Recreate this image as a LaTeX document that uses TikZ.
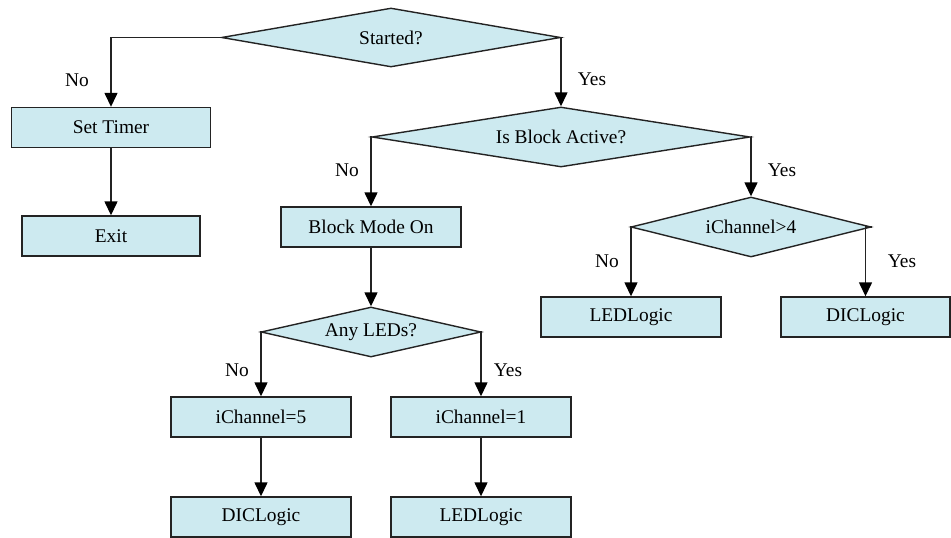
\documentclass[tikz,border=0pt]{standalone}
\usepackage{fontspec}
\setmainfont{Liberation Serif}
\usetikzlibrary{shapes.geometric,arrows.meta}
\definecolor{boxfill}{RGB}{205,234,240}
\definecolor{edge}{RGB}{35,35,35}
\begin{document}
\begin{tikzpicture}[x=1pt,y=-1pt,
  every node/.style={font=\fontsize{19.4}{23}\selectfont},
  stepbox/.style={draw=edge,line width=1.4pt,fill=boxfill,rectangle,inner sep=0pt,minimum height=40pt},
  decision/.style={draw=edge,line width=1.4pt,fill=boxfill,diamond,inner sep=0pt},
  flow/.style={draw=edge,line width=1.4pt,-{Triangle[length=14pt,width=13pt,color=black]}},
  lbl/.style={inner sep=0pt}]
\useasboundingbox (0,0) rectangle (951,538);

% decisions (aspect = width / height)
\node[decision,aspect=5.75,minimum width=339pt,minimum height=59pt] (start) at (391,37.5) {Started?};
\node[decision,aspect=6.3,minimum width=378pt,minimum height=60pt] (active) at (561,137) {Is Block Active?};
\node[decision,aspect=4.4,minimum width=220pt,minimum height=50pt] (anyled) at (371,332) {Any LEDs?};
\node[decision,aspect=4,minimum width=240pt,minimum height=60pt] (chan) at (751,227) {iChannel>4};

% process steps
\node[stepbox,minimum width=199pt] (timer) at (111,127.5) {Set Timer};
\node[stepbox,minimum width=178pt] (exit) at (111,236) {Exit};
\node[stepbox,minimum width=180pt] (block) at (371,227) {Block Mode On};
\node[stepbox,minimum width=180pt] (ledA) at (631,317) {LEDLogic};
\node[stepbox,minimum width=169pt] (dicA) at (865.5,317) {DICLogic};
\node[stepbox,minimum width=180pt] (ch5) at (261,417) {iChannel=5};
\node[stepbox,minimum width=180pt] (ch1) at (481,417) {iChannel=1};
\node[stepbox,minimum width=180pt] (dicB) at (261,517) {DICLogic};
\node[stepbox,minimum width=180pt] (ledB) at (481,517) {LEDLogic};

% connectors
\draw[flow] (start.west) -| (timer.north);
\draw[flow] (timer.south) -- (exit.north);
\draw[flow] (start.east) -| (active.north);
\draw[flow] (active.west) -| (block.north);
\draw[flow] (active.east) -| (chan.north);
\draw[flow] (chan.west) -| (ledA.north);
\draw[flow] (chan.east) -| (dicA.north);
\draw[flow] (block.south) -- (anyled.north);
\draw[flow] (anyled.west) -| (ch5.north);
\draw[flow] (anyled.east) -| (ch1.north);
\draw[flow] (ch5.south) -- (dicB.north);
\draw[flow] (ch1.south) -- (ledB.north);

% branch labels
\node[lbl] (l1) at (77,80) {No};
\node[lbl] (l2) at (592,79) {Yes};
\node[lbl] (l3) at (347,170) {No};
\node[lbl] (l4) at (782,170) {Yes};
\node[lbl] (l5) at (607,261) {No};
\node[lbl] (l6) at (902,261) {Yes};
\node[lbl] (l7) at (237,370) {No};
\node[lbl] (l8) at (508,370) {Yes};
\end{tikzpicture}
\end{document}
